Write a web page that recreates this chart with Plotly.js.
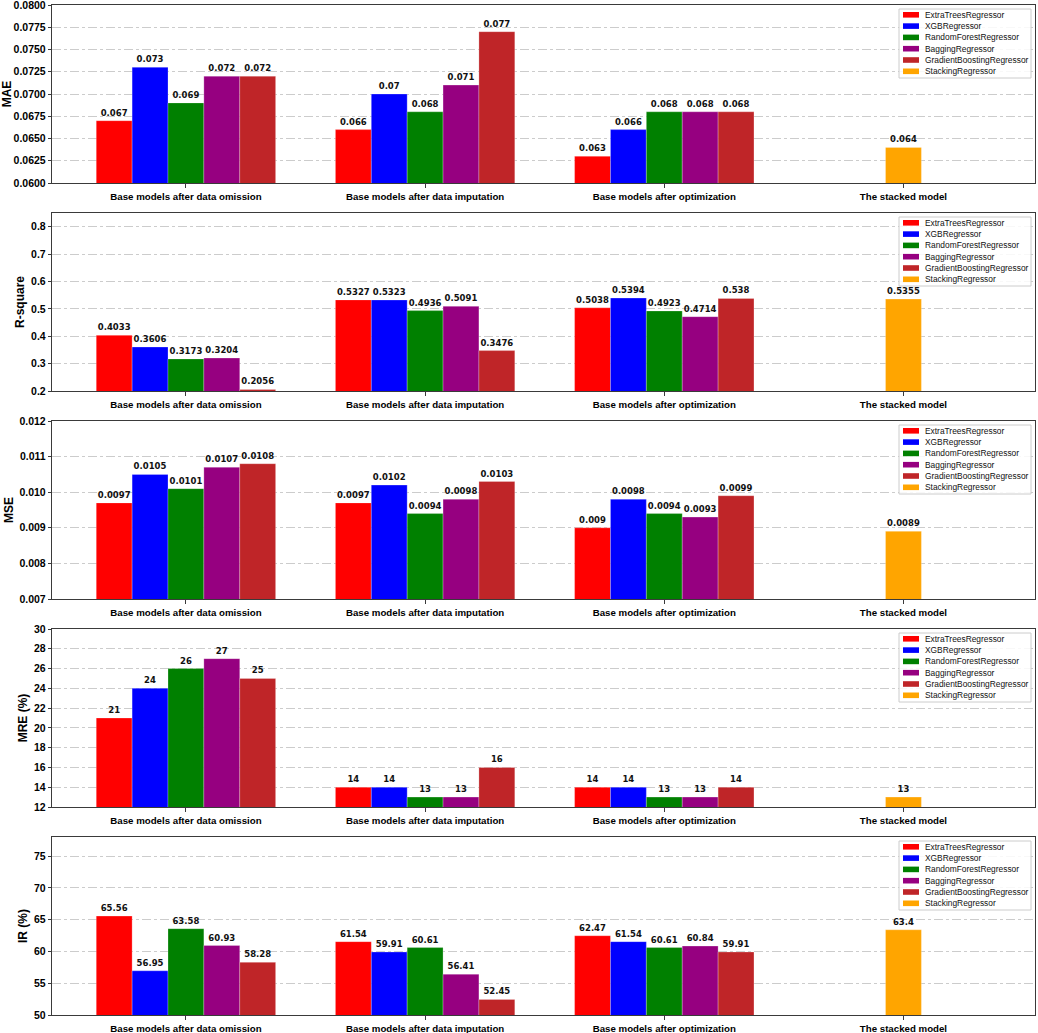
<!DOCTYPE html>
<html>
<head>
<meta charset="utf-8">
<script src="https://cdn.plot.ly/plotly-3.0.1.min.js"></script>
<style>
  body { margin: 0; background: #fff; }
  #chart { width: 1038px; height: 1033px; }
</style>
</head>
<body>
<div id="chart"></div>
<script>
// categories and series
var groups = ['Base models after data omission', 'Base models after data imputation',
              'Base models after optimization', 'The stacked model'];
var models = ['ExtraTreesRegressor', 'XGBRegressor', 'RandomForestRegressor',
              'BaggingRegressor', 'GradientBoostingRegressor', 'StackingRegressor'];
var colors = ['#ff0000', '#0000ff', '#008000', '#960080', '#bf2528', '#ffa500'];

// values per metric, per group (base models in order of `models`)
var maeOmission     = [0.067, 0.073, 0.069, 0.072, 0.072];
var maeImputation   = [0.066, 0.07, 0.068, 0.071, 0.077];
var maeOptimization = [0.063, 0.066, 0.068, 0.068, 0.068];
var maeStacked      = [0.064];

var r2Omission     = [0.4033, 0.3606, 0.3173, 0.3204, 0.2056];
var r2Imputation   = [0.5327, 0.5323, 0.4936, 0.5091, 0.3476];
var r2Optimization = [0.5038, 0.5394, 0.4923, 0.4714, 0.538];
var r2Stacked      = [0.5355];

var mseOmission     = [0.0097, 0.0105, 0.0101, 0.0107, 0.0108];
var mseImputation   = [0.0097, 0.0102, 0.0094, 0.0098, 0.0103];
var mseOptimization = [0.009, 0.0098, 0.0094, 0.0093, 0.0099];
var mseStacked      = [0.0089];

var mreOmission     = [21, 24, 26, 27, 25];
var mreImputation   = [14, 14, 13, 13, 16];
var mreOptimization = [14, 14, 13, 13, 14];
var mreStacked      = [13];

var irOmission     = [65.56, 56.95, 63.58, 60.93, 58.28];
var irImputation   = [61.54, 59.91, 60.61, 56.41, 52.45];
var irOptimization = [62.47, 61.54, 60.61, 60.84, 59.91];
var irStacked      = [63.4];

var panels = [
  {title: 'MAE',      range: [0.06, 0.0800001], dtick: 0.0025, fmt: '.4f', om: maeOmission, im: maeImputation, op: maeOptimization, st: maeStacked},
  {title: 'R-square', range: [0.2, 0.85],       dtick: 0.1,    fmt: '.1f', om: r2Omission,  im: r2Imputation,  op: r2Optimization,  st: r2Stacked},
  {title: 'MSE',      range: [0.007, 0.0120001], dtick: 0.001, fmt: '.3f', om: mseOmission, im: mseImputation, op: mseOptimization, st: mseStacked},
  {title: 'MRE (%)',  range: [12, 30],          dtick: 2,      fmt: 'd',   om: mreOmission, im: mreImputation, op: mreOptimization, st: mreStacked},
  {title: 'IR (%)',   range: [50, 78],          dtick: 5,      fmt: 'd',   om: irOmission,  im: irImputation,  op: irOptimization,  st: irStacked}
];

var W = 1038, H = 1033;
var ML = 52, MR = 3, MT = 5, MB = 18;
var plotW = W - ML - MR, paperH = H - MT - MB;
var panelTops = [5, 213, 421, 629, 837];
var panelH = 178;
var SANS = 'Liberation Sans, Arial, sans-serif';
var DEJA = 'DejaVu Sans, sans-serif';
var barW = 0.15;

function lbl(v) { return v == null ? '' : String(v); }

var traces = [];
var layout = {
  width: W, height: H,
  margin: {l: ML, r: MR, t: MT, b: MB},
  paper_bgcolor: '#fff', plot_bgcolor: '#fff',
  barmode: 'overlay',
  showlegend: false,
  font: {family: SANS, color: '#000'},
  shapes: [], annotations: []
};

panels.forEach(function(p, k) {
  var sfx = k === 0 ? '' : String(k + 1);
  var xa = 'x' + sfx, ya = 'y' + sfx;

  for (var i = 0; i < 5; i++) {
    var y = [p.om[i], p.im[i], p.op[i], null];
    traces.push({
      type: 'bar', x: groups, y: y, name: models[i],
      xaxis: xa, yaxis: ya,
      width: barW, offset: -2.5 * barW + i * barW,
      marker: {color: colors[i], line: {width: 0.7, color: 'rgba(255,255,255,0.35)'}},
      text: y.map(lbl), textposition: 'outside', constraintext: 'none',
      textfont: {family: DEJA, size: 8.5, color: '#111', weight: 'bold'},
      hoverinfo: 'name+y'
    });
  }
  var ys = [null, null, null, p.st[0]];
  traces.push({
    type: 'bar', x: groups, y: ys, name: models[5],
    xaxis: xa, yaxis: ya,
    width: barW, offset: -0.5 * barW,
    marker: {color: colors[5], line: {width: 0.7, color: 'rgba(255,255,255,0.35)'}},
    text: ys.map(lbl), textposition: 'outside', constraintext: 'none',
    textfont: {family: DEJA, size: 8.5, color: '#111', weight: 'bold'},
    hoverinfo: 'name+y'
  });

  var top = panelTops[k], bot = top + panelH;
  layout['xaxis' + sfx] = {
    domain: [0, 1], anchor: ya,
    type: 'category', range: [-0.56, 3.55],
    showline: true, mirror: true, linecolor: '#3a3a3a', linewidth: 1.2,
    ticks: 'outside', ticklen: 4, tickcolor: '#3a3a3a',
    tickfont: {family: SANS, size: 9.7, weight: 'bold', color: '#000'},
    showgrid: false, zeroline: false
  };
  layout['yaxis' + sfx] = {
    domain: [(H - MB - bot) / paperH, (H - MB - top) / paperH], anchor: xa,
    range: p.range, dtick: p.dtick, tick0: p.range[0], tickformat: p.fmt,
    ticklabeloverflow: 'allow',
    showline: true, mirror: true, linecolor: '#3a3a3a', linewidth: 1.2,
    ticks: 'outside', ticklen: 3, tickcolor: '#3a3a3a',
    tickfont: {family: SANS, size: 10.5, weight: 'bold', color: '#000'},
    showgrid: true, gridcolor: '#cccccc', griddash: 'dashdot', gridwidth: 1,
    zeroline: false,
    title: {text: p.title, standoff: 3, font: {family: SANS, size: 12, weight: 'bold', color: '#000'}}
  };

  // legend box in the upper right corner of each panel
  var xd = xa + ' domain', yd = ya + ' domain';
  function fx(px) { return (px - ML) / plotW; }
  function fy(d) { return 1 - d / panelH; }
  layout.shapes.push({
    type: 'rect', xref: xd, yref: yd,
    x0: fx(899), x1: fx(1031), y0: fy(73), y1: fy(4),
    line: {color: '#cccccc', width: 1}, fillcolor: 'rgba(255,255,255,0.85)', layer: 'above'
  });
  models.forEach(function(m, j) {
    var d = 9.8 + 11.3 * j;
    layout.shapes.push({
      type: 'rect', xref: xd, yref: yd,
      x0: fx(903), x1: fx(919), y0: fy(d + 2.8), y1: fy(d - 2.8),
      line: {width: 0}, fillcolor: colors[j], layer: 'above'
    });
    layout.annotations.push({
      xref: xd, yref: yd, x: fx(923), y: fy(d),
      xanchor: 'left', yanchor: 'middle', showarrow: false,
      text: m, font: {family: SANS, size: 8.4, color: '#111'}
    });
  });
});

Plotly.newPlot('chart', traces, layout, {displayModeBar: false, staticPlot: true});
</script>
</body>
</html>
